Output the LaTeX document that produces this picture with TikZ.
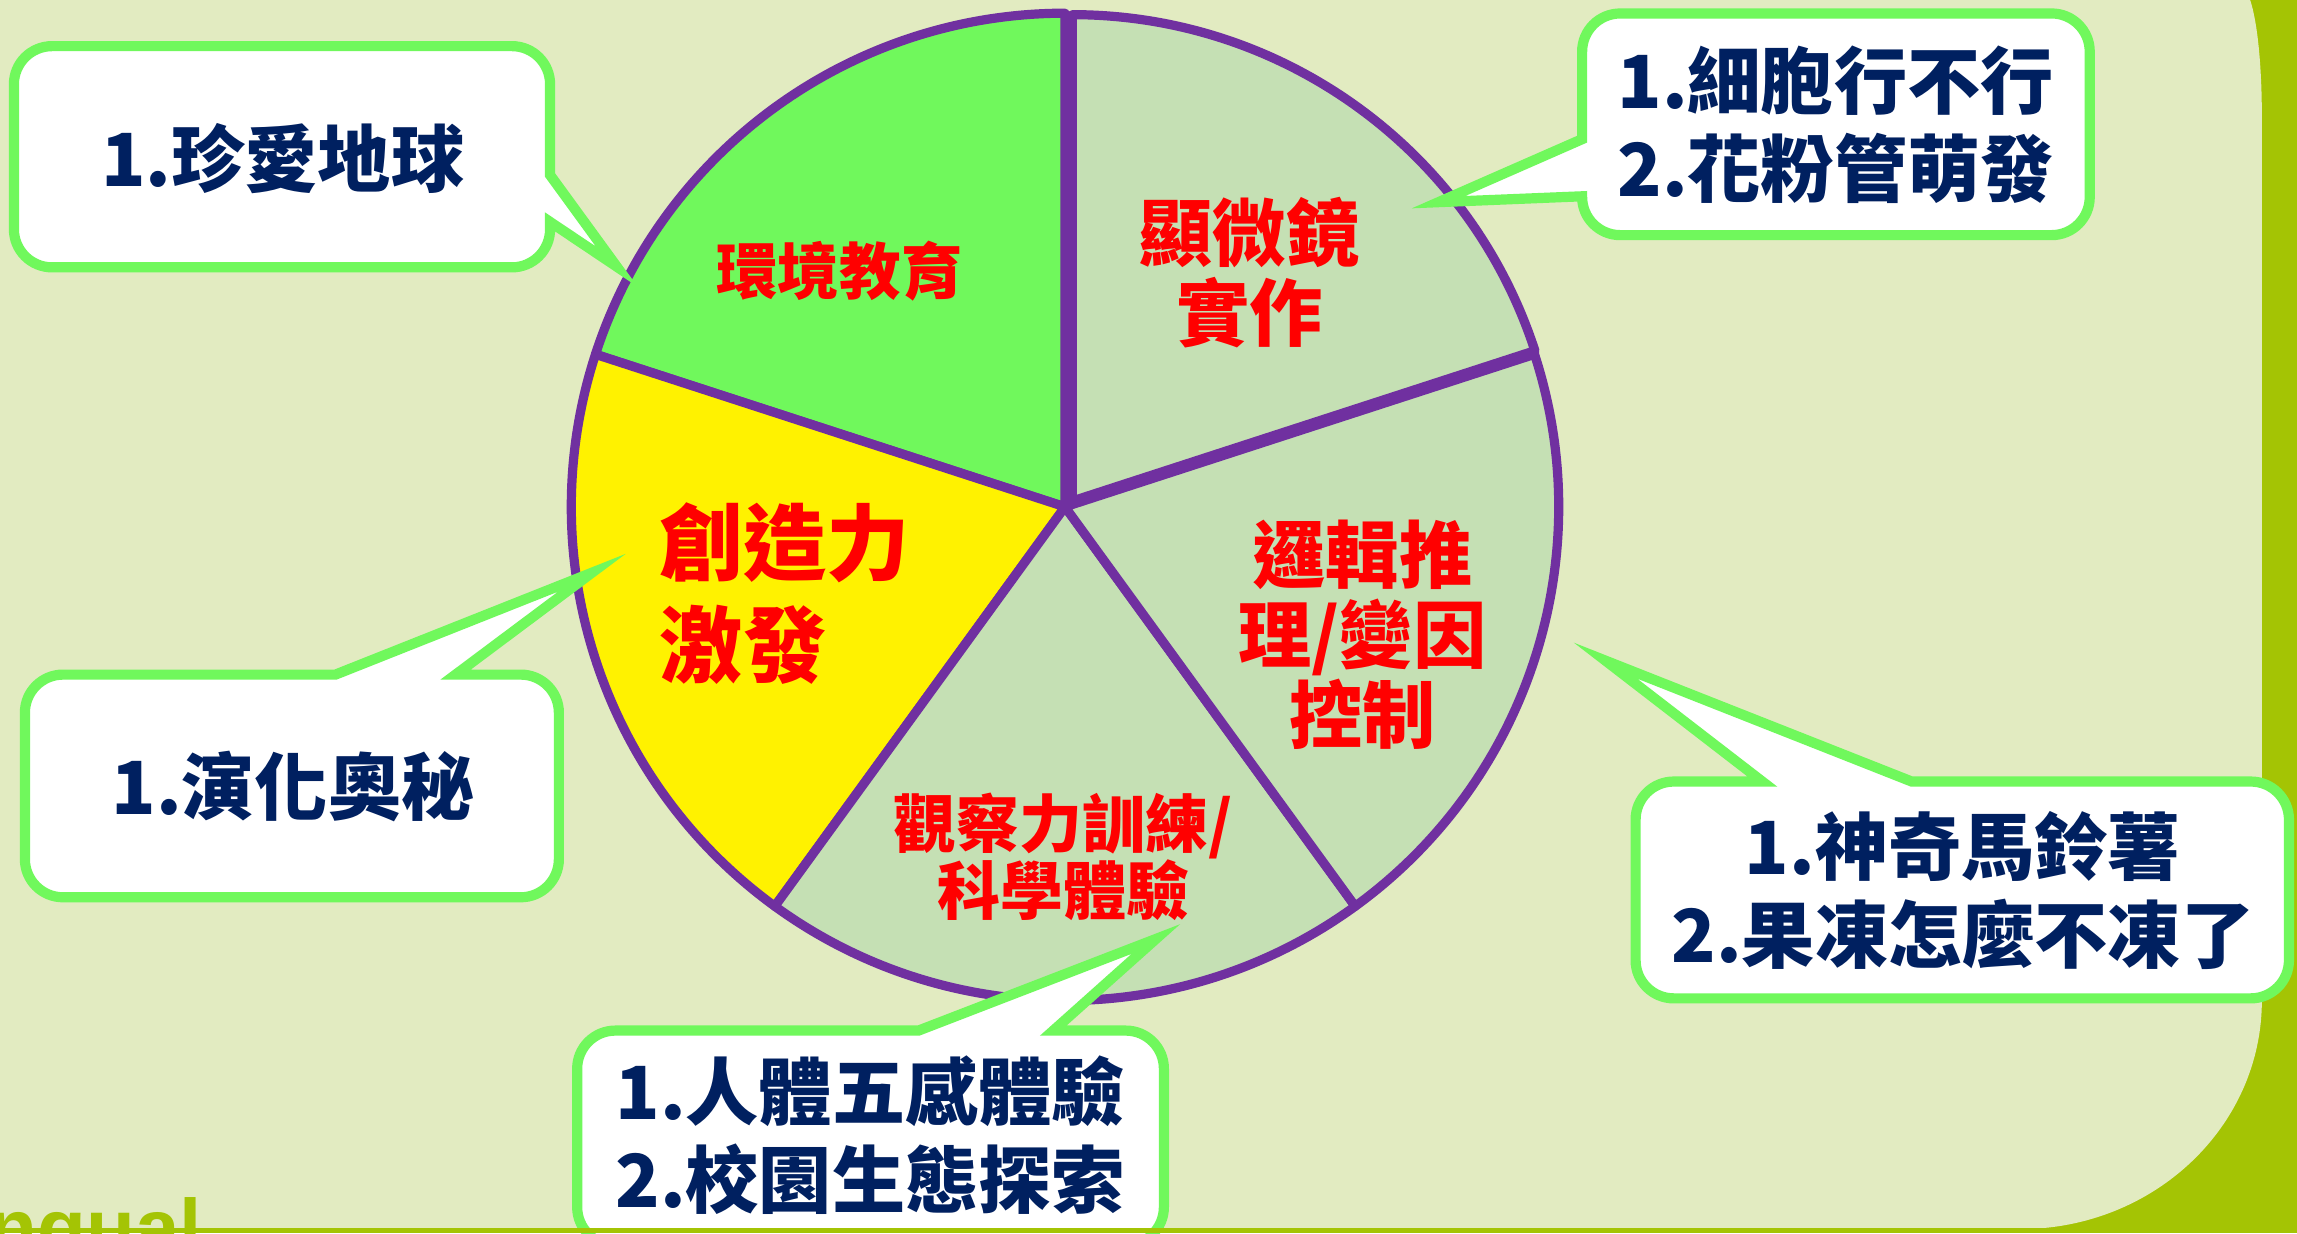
\documentclass[tikz,border=0pt]{standalone}
\usepackage{fontspec}
\newfontfamily\cjk{Noto Sans CJK TC}
\newfontfamily\lsans{Liberation Sans}
\definecolor{bglight}{RGB}{226,235,193}
\definecolor{olive}{RGB}{164,196,4}
\definecolor{pgreen}{RGB}{112,248,92}
\definecolor{pgray}{RGB}{197,224,180}
\definecolor{ppurple}{RGB}{112,48,160}
\definecolor{navy}{RGB}{0,32,96}
\tikzset{
  wedgeline/.style={draw=ppurple, line width=4.6pt, line join=round},
  callout/.style={draw=pgreen, fill=white, line width=5.1pt, line join=miter, miter limit=30},
  ctext/.style={text=navy, inner sep=0pt, align=center, font=\cjk\bfseries\fontsize{36.6}{44}\selectfont},
  rtext/.style={text=red, inner sep=0pt, align=center},
}
\begin{document}
\begin{tikzpicture}[x=0.7324pt,y=-0.7324pt]
\useasboundingbox (0,0) rectangle (1568,842);
% background
\fill[olive] (0,0) rectangle (1568,842);
\fill[bglight] (0,0) -- (1536,0) .. controls (1541,15) and (1544,45) .. (1544,80)
  -- (1544,683) arc[start angle=0,end angle=90,x radius=165,y radius=156]
  -- (0,839) -- cycle;
\node[anchor=base west, inner sep=0pt, text=olive, font=\lsans\bfseries\fontsize{40}{40}\selectfont] (ngual) at (-8,857) {ngual};

% pie
\coordinate (c) at (727,346);
\draw[wedgeline, fill=pgreen] (c) -- ++(-90:337) arc[start angle=-90,end angle=-162,radius=337] -- cycle;
\draw[wedgeline, fill=yellow] (c) -- ++(-162:337) arc[start angle=-162,end angle=-234,radius=337] -- cycle;
\draw[wedgeline, fill=pgray] (c) -- ++(-234:337) arc[start angle=-234,end angle=-306,radius=337] -- cycle;
\draw[wedgeline, fill=pgray] (c) -- ++(-306:337) arc[start angle=-306,end angle=-378,radius=337] -- cycle;
\coordinate (c2) at (732,342);
\draw[wedgeline, fill=pgray] (c2) -- ++(-18:332) arc[start angle=-18,end angle=-90,radius=332] -- cycle;

% wedge labels
\node[rtext, font=\cjk\bfseries\fontsize{30.8}{34}\selectfont] (env) at (573,185) {環境教育};
\node[rtext, font=\cjk\bfseries\fontsize{36.6}{40}\selectfont] (micro) at (853,186) {顯微鏡\\實作};
\node[rtext, align=left, anchor=west, font=\cjk\bfseries\fontsize{41.7}{51}\selectfont] (crea) at (450,405) {創造力\\激發};
\node[rtext, font=\cjk\bfseries\fontsize{36.6}{40}\selectfont] (logic) at (930,433) {邏輯推\\理/變因\\控制};
\node[rtext, font=\cjk\bfseries\fontsize{31.5}{33.7}\selectfont] (obs) at (726,585) {觀察力訓練/\\科學體驗};

% callout A
\draw[callout] (35.5,31.5) -- (349.5,31.5) arc[start angle=-90,end angle=0,radius=26]
  -- (375.5,119.5) -- (421,182) -- (375.5,151.5) -- (375.5,156.5)
  arc[start angle=0,end angle=90,radius=26] -- (35.5,182.5)
  arc[start angle=90,end angle=180,radius=26] -- (9.5,57.5)
  arc[start angle=180,end angle=270,radius=26] -- cycle;
\node[ctext] (ta) at (193,108) {1.珍愛地球};

% callout B
\draw[callout] (1106,9.2) -- (1400.5,9.2) arc[start angle=-90,end angle=0,radius=26]
  -- (1426.5,134.5) arc[start angle=0,end angle=90,radius=26] -- (1106,160.5)
  arc[start angle=90,end angle=180,radius=26] -- (1080,134) -- (982,138) -- (1080,95)
  -- (1080,35.2) arc[start angle=180,end angle=270,radius=26] -- cycle;
\node[ctext] (tb) at (1253,85) {1.細胞行不行\\2.花粉管萌發};

% callout C
\draw[callout] (43,460.5) -- (229,460.5) -- (404,391) -- (311,460.5) -- (355.5,460.5)
  arc[start angle=-90,end angle=0,radius=26] -- (381.5,586.5)
  arc[start angle=0,end angle=90,radius=26] -- (43,612.5)
  arc[start angle=90,end angle=180,radius=26] -- (17,486.5)
  arc[start angle=180,end angle=270,radius=26] -- cycle;
\node[ctext] (tc) at (200,537) {1.演化奧秘};

% callout D
\draw[callout] (420,703.5) -- (627,703.5) -- (789,641) -- (719,703.5) -- (768.5,703.5)
  arc[start angle=-90,end angle=0,radius=26] -- (794.5,824)
  arc[start angle=0,end angle=90,radius=26] -- (420,850)
  arc[start angle=90,end angle=180,radius=26] -- (394,729.5)
  arc[start angle=180,end angle=270,radius=26] -- cycle;
\node[ctext] (td) at (594,775) {1.人體五感體驗\\2.校園生態探索};

% callout E
\draw[callout] (1142.5,533.5) -- (1203,533.5) -- (1096,451) -- (1305,533.5) -- (1536.5,533.5)
  arc[start angle=-90,end angle=0,radius=26] -- (1562.5,655.5)
  arc[start angle=0,end angle=90,radius=26] -- (1142.5,681.5)
  arc[start angle=90,end angle=180,radius=26] -- (1116.5,559.5)
  arc[start angle=180,end angle=270,radius=26] -- cycle;
\node[ctext] (te) at (1340,608) {1.神奇馬鈴薯\\2.果凍怎麼不凍了};

% bottom strip
\fill[olive] (0,838.5) rectangle (1568,842);
\end{tikzpicture}
\end{document}
